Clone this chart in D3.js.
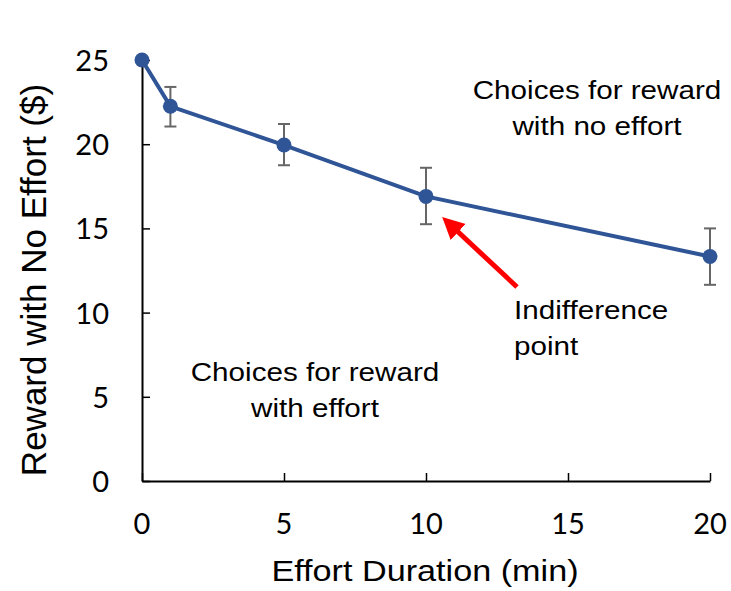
<!DOCTYPE html>
<html lang="en">
<head>
<meta charset="UTF-8">
<title>Indifference curve</title>
<script src="https://d3js.org/d3.v7.min.js"></script>
<style>
  body { margin: 0; background: #fff; }
  .tick-label { font-family: Lato, "Liberation Sans", Arial, sans-serif; font-size: 29px; fill: #000; }
  .axis-title { font-family: "Liberation Sans", Arial, sans-serif; font-size: 30px; fill: #000; }
  .note { font-family: "Liberation Sans", Arial, sans-serif; font-size: 26px; fill: #000; }
</style>
</head>
<body>
<div id="chart"></div>
<script>
// data
var durations = [0, 1, 5, 10, 20]
var rewards   = [25, 22.25, 19.95, 16.9, 13.33]
var errLow    = [null, 21.05, 18.75, 15.25, 11.65]
var errHigh   = [null, 23.4, 21.2, 18.6, 15.0]
var xTicks = [0, 5, 10, 15, 20]
var yTicks = [0, 5, 10, 15, 20, 25]

var width = 731, height = 591
var margin = {left: 142, right: 21, top: 60, bottom: 110}
var stretch = 1.14   // the original picture is a bit wider than tall

var svg = d3.select("#chart").append("svg")
    .attr("width", width)
    .attr("height", height)

var x = d3.scaleLinear().domain([0, 20]).range([margin.left, width - margin.right])
var y = d3.scaleLinear().domain([0, 25]).range([height - margin.bottom, margin.top])

// axes - ticks point inward like the original
var xAxis = svg.append("g")
    .attr("transform", "translate(0," + y(0) + ")")
    .call(d3.axisBottom(x).tickValues(xTicks).tickSize(-8).tickSizeOuter(0).tickFormat(""))
xAxis.select(".domain").attr("stroke", "#000").attr("stroke-width", 2)
xAxis.selectAll(".tick line").attr("stroke", "#000").attr("stroke-width", 1.5)

var yAxis = svg.append("g")
    .attr("transform", "translate(" + x(0) + ",0)")
    .call(d3.axisLeft(y).tickValues(yTicks).tickSize(-8).tickSizeOuter(0).tickFormat(""))
yAxis.select(".domain").attr("stroke", "#000").attr("stroke-width", 2)
yAxis.selectAll(".tick line").attr("stroke", "#000").attr("stroke-width", 1.5)

// tick labels
svg.selectAll(".xlab").data(xTicks).enter().append("text")
    .attr("class", "tick-label")
    .attr("x", function(d) { return x(d) })
    .attr("y", y(0) + 53)
    .attr("text-anchor", "middle")
    .text(function(d) { return d })

svg.selectAll(".ylab").data(yTicks).enter().append("text")
    .attr("class", "tick-label")
    .attr("x", x(0) - 33)
    .attr("y", function(d) { return y(d) + 11 })
    .attr("text-anchor", "end")
    .text(function(d) { return d })

// axis titles
svg.append("text")
    .attr("class", "axis-title")
    .attr("transform", "translate(425,581) scale(" + stretch + ",1)")
    .attr("text-anchor", "middle")
    .text("Effort Duration (min)")

svg.append("text")
    .attr("class", "axis-title")
    .style("font-size", "35px")
    .attr("transform", "translate(46,280) rotate(-90)")
    .attr("text-anchor", "middle")
    .text("Reward with No Effort ($)")

var pts = durations.map(function(d, i) {
    return {x: d, y: rewards[i], lo: errLow[i], hi: errHigh[i]}
})

// error bars
var eb = svg.selectAll(".err").data(pts.filter(function(d) { return d.lo != null })).enter().append("g")
eb.append("line")
    .attr("x1", function(d) { return x(d.x) }).attr("x2", function(d) { return x(d.x) })
    .attr("y1", function(d) { return y(d.lo) }).attr("y2", function(d) { return y(d.hi) })
eb.append("line")
    .attr("x1", function(d) { return x(d.x) - 6 }).attr("x2", function(d) { return x(d.x) + 6 })
    .attr("y1", function(d) { return y(d.lo) }).attr("y2", function(d) { return y(d.lo) })
eb.append("line")
    .attr("x1", function(d) { return x(d.x) - 6 }).attr("x2", function(d) { return x(d.x) + 6 })
    .attr("y1", function(d) { return y(d.hi) }).attr("y2", function(d) { return y(d.hi) })
eb.selectAll("line").attr("stroke", "#666").attr("stroke-width", 2)

// line + markers
var line = d3.line().x(function(d) { return x(d.x) }).y(function(d) { return y(d.y) })
svg.append("path")
    .datum(pts)
    .attr("d", line)
    .attr("fill", "none")
    .attr("stroke", "#2F5597")
    .attr("stroke-width", 4)

svg.selectAll(".dot").data(pts).enter().append("circle")
    .attr("cx", function(d) { return x(d.x) })
    .attr("cy", function(d) { return y(d.y) })
    .attr("r", 7.5)
    .attr("fill", "#2F5597")

// red arrow pointing at the indifference point
svg.append("defs").append("marker")
    .attr("id", "head")
    .attr("viewBox", "0 0 10 10")
    .attr("refX", 2).attr("refY", 5)
    .attr("markerWidth", 4.4).attr("markerHeight", 4.6)
    .attr("orient", "auto")
    .append("path")
    .attr("d", "M0,0 L10,5 L0,10 z")
    .attr("fill", "#FF0000")

svg.append("line")
    .attr("x1", 517).attr("y1", 287)
    .attr("x2", 455).attr("y2", 229)
    .attr("stroke", "#FF0000")
    .attr("stroke-width", 5)
    .attr("marker-end", "url(#head)")

// annotations
function note(lines, px, py, anchor) {
    lines.forEach(function(s, i) {
        svg.append("text")
            .attr("class", "note")
            .attr("text-anchor", anchor)
            .attr("transform", "translate(" + px + "," + (py + i * 36) + ") scale(" + stretch + ",1)")
            .text(s)
    })
}
note(["Choices for reward", "with no effort"], 597, 99, "middle")
note(["Indifference", "point"], 514, 319, "start")
note(["Choices for reward", "with effort"], 315, 381, "middle")
</script>
</body>
</html>
